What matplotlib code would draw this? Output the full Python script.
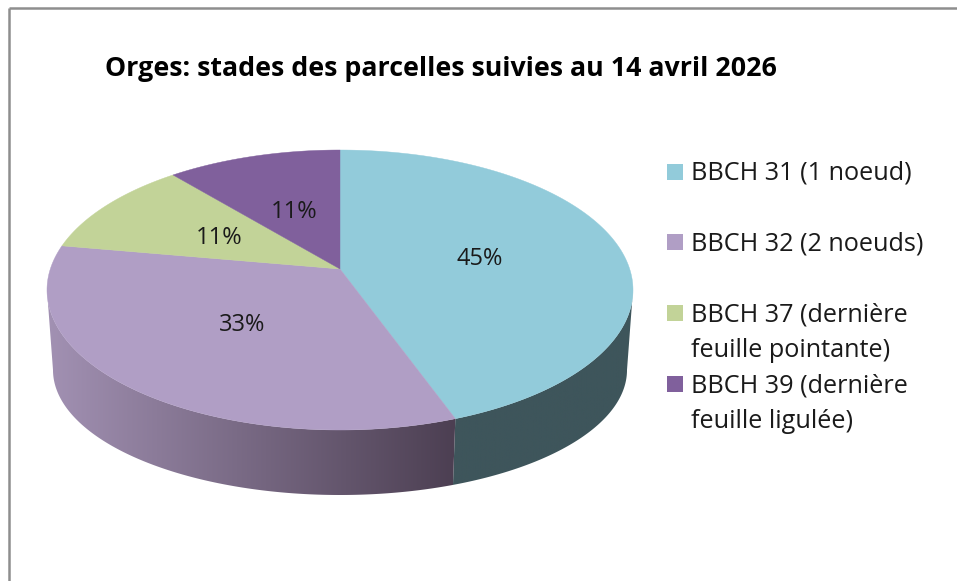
import numpy as np
import matplotlib
matplotlib.use("Agg")
import matplotlib.pyplot as plt
from matplotlib.patches import Polygon, Rectangle
from matplotlib.colors import LinearSegmentedColormap

# Data
title = "Orges: stades des parcelles suivies au 14 avril 2026"
categories = ["BBCH 31 (1 noeud)", "BBCH 32 (2 noeuds)",
              "BBCH 37 (dernière\nfeuille pointante)", "BBCH 39 (dernière\nfeuille ligulée)"]
values = [44.4, 33.3, 11.1, 11.1]
pct_labels = ["45%", "33%", "11%", "11%"]
colors = ["#92CBDA", "#B09EC5", "#C2D398", "#80609C"]

# pie geometry, in pixels
cx, cy, rx, ry = 340, 290, 293, 140
apex_shift = -21
k = apex_shift / ry
bottom_cy, bottom_rx, bottom_ry = 370, 287, 125

fig = plt.figure(figsize=(9.57, 5.81), dpi=100)
ax = fig.add_axes([0, 0, 1, 1])
ax.set_xlim(0, 957)
ax.set_ylim(581, 0)
ax.axis("off")


def project(theta, r=1.0):
    # theta clockwise from the top, with a bit of perspective
    u = r * np.sin(theta)
    v = -r * np.cos(theta)
    w = 1 + k * v
    x = cx + rx * np.sqrt(1 - k ** 2) * u / w
    y = cy + (ry * v + apex_shift) / w
    return x, y


def lower(x, y):
    # same point on the bottom edge of the pie
    return cx + (x - cx) * bottom_rx / rx, bottom_cy + (y - cy) * bottom_ry / ry


edges = np.concatenate([[0], np.cumsum(values)]) / np.sum(values) * 2 * np.pi

# frame
ax.plot([9, 9], [581, 8], color="#8E8E8E", lw=1.8, solid_capstyle="butt")
ax.plot([9, 957], [8, 8], color="#8E8E8E", lw=1.8, solid_capstyle="butt")

# sides, only between the two points where the top ellipse turns back
tangent = np.arccos(k)
side_cmaps = [LinearSegmentedColormap.from_list("s0", ["#3E555B", "#3E555B"]),
              LinearSegmentedColormap.from_list("s1", ["#4C3F52", "#A291B3"])]
for i in range(2):
    start = max(edges[i], tangent)
    stop = min(edges[i + 1], 2 * np.pi - tangent)
    t = np.linspace(start, stop, 200)
    x, y = project(t)
    bx, by = lower(x, y)
    pts = np.column_stack([np.r_[x, bx[::-1]], np.r_[y, by[::-1]]])
    poly = Polygon(pts, closed=True, fc="none", ec="none")
    ax.add_patch(poly)
    grad = np.linspace(0, 1, 256).reshape(1, -1)
    if i == 1:
        grad = grad[:, ::-1]
    im = ax.imshow(grad, cmap=side_cmaps[i], aspect="auto", vmin=0, vmax=1,
                   extent=[pts[:, 0].min(), pts[:, 0].max(), pts[:, 1].max(), pts[:, 1].min()],
                   zorder=1)
    im.set_clip_path(poly)
ax.set_xlim(0, 957)
ax.set_ylim(581, 0)

# top surface
apex = project(0.0, 0.0)
for i in range(len(values)):
    t = np.linspace(edges[i], edges[i + 1], 200)
    x, y = project(t)
    pts = np.column_stack([np.r_[apex[0], x], np.r_[apex[1], y]])
    ax.add_patch(Polygon(pts, closed=True, fc=colors[i], ec=colors[i], lw=0.3, zorder=2))

# percent labels
pct_pos = [(480, 259), (242, 325), (219, 238), (294, 212)]
for lab, (px, py) in zip(pct_labels, pct_pos):
    ax.text(px, py, lab, ha="center", va="center", fontsize=17, family="Open Sans",
            color="#1A1A1A", zorder=3)

# title
ax.text(105, 69, title, ha="left", va="center", fontsize=19.3, family="Open Sans",
        fontweight="bold", color="black")

# legend
box_y = [171.5, 242, 313, 384]
text_y = [173, 244, 333, 404]
for c, lab, by_, ty in zip(colors, categories, box_y, text_y):
    ax.add_patch(Rectangle((667, by_ - 8), 16, 16, fc=c, ec="none"))
    ax.text(691, ty, lab, ha="left", va="center", fontsize=18.2, family="Open Sans",
            color="#1A1A1A", linespacing=1.55)

fig.savefig("out.png", dpi=100)
